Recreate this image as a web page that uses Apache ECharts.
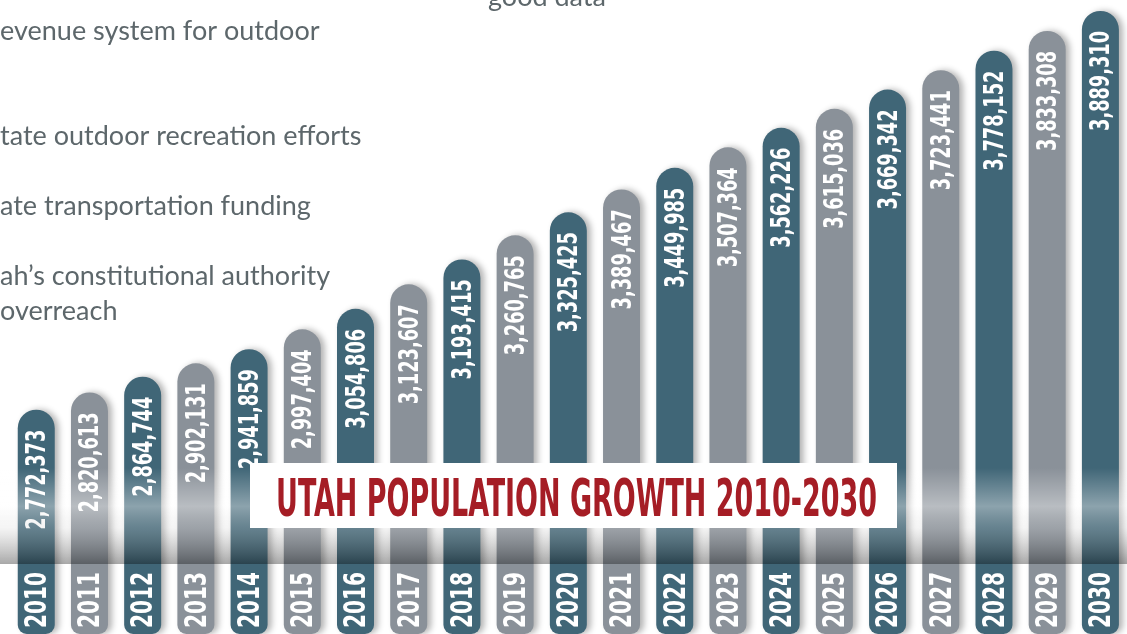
<!DOCTYPE html>
<html>
<head>
<meta charset="utf-8">
<script src="https://cdn.jsdelivr.net/npm/echarts@6/dist/echarts.min.js"></script>
<style>
	html, body { margin: 0; padding: 0; background: #fff; }
	#chart { width: 1127px; height: 634px; }
</style>
</head>
<body>
<div id="chart"></div>
<script>
/* 年份 */
const years = ["2010", "2011", "2012", "2013", "2014", "2015", "2016", "2017", "2018", "2019", "2020",
	"2021", "2022", "2023", "2024", "2025", "2026", "2027", "2028", "2029", "2030"];
/* 人口 */
const population = [2772373, 2820613, 2864744, 2902131, 2941859, 2997404, 3054806, 3123607, 3193415,
	3260765, 3325425, 3389467, 3449985, 3507364, 3562226, 3615036, 3669342, 3723441, 3778152, 3833308, 3889310];
/* 背景文字 */
const bgLines = [
	"evenue system for outdoor",
	"tate outdoor recreation efforts",
	"ate transportation funding",
	"ah\u2019s constitutional authority",
	"overreach",
];
const bgNote = "good data";
const chartTitle = "UTAH POPULATION GROWTH 2010-2030";

const narrow = '"Liberation Sans Narrow", "DejaVu Sans Condensed", sans-serif';
const teal = "#406677";
const grey = "#8a9199";
const yMin = 2144000;
const yMax = 3920000;

/* 量字寬，壓成窄體 */
const measureCtx = document.createElement("canvas").getContext("2d");
const fitScale = (text, font, target) => {
	measureCtx.font = font;
	return target / measureCtx.measureText(text).width;
};
const valueFont = "bold 27px " + narrow;
const yearFont = "bold 30px " + narrow;
const titleFont = "bold 52px " + narrow;
const valueScale = fitScale("2,772,373", valueFont, 100);
const yearScale = fitScale("2010", yearFont, 56);
const titleScale = fitScale(chartTitle, titleFont, 601);

const chart = echarts.init(document.getElementById("chart"));

const bgY = [45, 150, 220, 290, 325];
const graphics = bgLines.map((t, i) => ({
	type: "text",
	z: 0,
	x: 0,
	y: bgY[i],
	style: {
		text: t,
		font: '27px Lato, "Noto Sans", sans-serif',
		fill: "#5d676b",
		verticalAlign: "bottom",
	},
}));
graphics.push({
	type: "text",
	z: 0,
	x: 488,
	y: 11,
	style: {
		text: bgNote,
		font: '27px Lato, "Noto Sans", sans-serif',
		fill: "#5d676b",
		verticalAlign: "bottom",
	},
});
/* 霧帶 */
graphics.push({
	type: "rect",
	z: 5,
	silent: true,
	shape: { x: 0, y: 468, width: 1127, height: 96 },
	style: {
		fill: {
			type: "linear",
			x: 0, y: 0, x2: 0, y2: 1,
			colorStops: [
				{ offset: 0, color: "rgba(255,255,255,0)" },
				{ offset: 0.4, color: "rgba(255,255,255,0.4)" },
				{ offset: 0.62, color: "rgba(215,215,215,0.25)" },
				{ offset: 1, color: "rgba(0,0,0,0.34)" },
			],
		},
	},
});
/* 標題框 */
graphics.push({
	type: "rect",
	z: 20,
	shape: { x: 250, y: 463, width: 647, height: 65 },
	style: { fill: "#ffffff" },
});
graphics.push({
	type: "text",
	z: 21,
	x: 276,
	y: 502,
	scaleX: titleScale,
	style: {
		text: chartTitle,
		font: titleFont,
		fill: "#a51d25",
		verticalAlign: "middle",
	},
});

chart.setOption({
	animation: false,
	grid: { left: 9.65, top: 0, width: 1127.7, height: 634 },
	xAxis: {
		type: "category",
		data: years,
		show: false,
	},
	yAxis: {
		type: "value",
		min: yMin,
		max: yMax,
		show: false,
	},
	series: [
		{
			type: "bar",
			data: population,
			barWidth: 37,
			itemStyle: {
				color: (p) => (p.dataIndex % 2 ? grey : teal),
				borderRadius: [18.5, 18.5, 9, 9],
				shadowColor: "rgba(0,0,0,0.3)",
				shadowBlur: 6,
				shadowOffsetX: 4,
			},
		},
		{
			/* 直排數值與年份 */
			type: "custom",
			z: 3,
			silent: true,
			data: population.map((v, i) => [i, v]),
			encode: { x: 0, y: 1 },
			renderItem: (params, api) => {
				const idx = api.value(0);
				const value = api.value(1);
				const top = api.coord([idx, value]);
				const base = api.coord([idx, yMin]);
				return {
					type: "group",
					children: [
						{
							type: "text",
							x: top[0] + 2,
							y: top[1] + 20,
							rotation: Math.PI / 2,
							scaleX: valueScale,
							style: {
								text: value.toLocaleString("en-US"),
								font: valueFont,
								fill: "#ffffff",
								align: "right",
								verticalAlign: "middle",
							},
						},
						{
							type: "text",
							x: base[0] + 2,
							y: base[1] - 6,
							rotation: Math.PI / 2,
							scaleX: yearScale,
							style: {
								text: years[idx],
								font: yearFont,
								fill: "#ffffff",
								align: "left",
								verticalAlign: "middle",
							},
						},
					],
				};
			},
		},
	],
	graphic: graphics,
});
</script>
</body>
</html>
